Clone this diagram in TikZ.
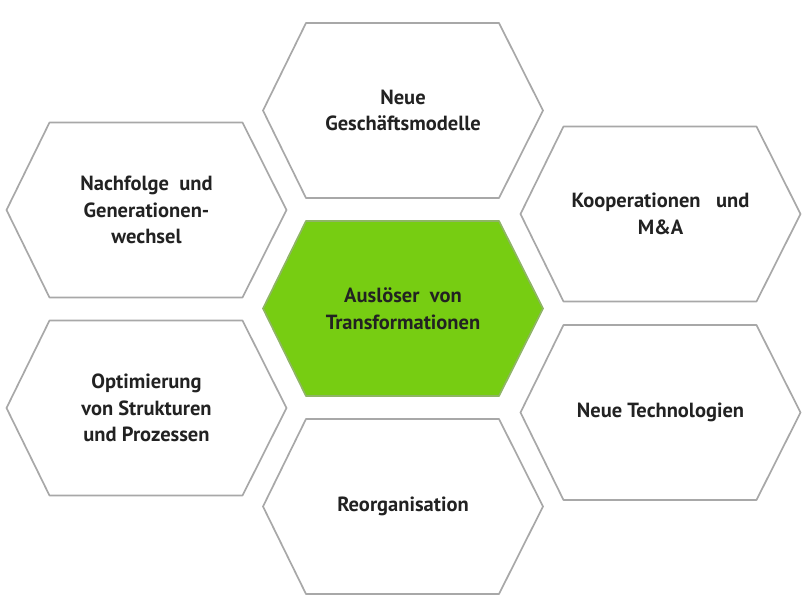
\documentclass[tikz,border=0pt]{standalone}
\usepackage{fontspec}
\setmainfont{PT Sans}
\definecolor{hexgray}{HTML}{A8A8A8}
\definecolor{hexgreen}{HTML}{77CD12}
\definecolor{greenline}{HTML}{8FB565}
\definecolor{txtdark}{HTML}{222222}
\tikzset{
  hexline/.style={draw=hexgray, line width=1.7pt, line join=round, fill=white},
  hexcore/.style={draw=greenline, line width=1.7pt, line join=round, fill=hexgreen},
  hextext/.style={align=center, font=\bfseries\fontsize{20.5}{26.5}\selectfont, text=txtdark, inner sep=0pt},
}
\newcommand{\hexshape}[1]{\path[#1] (-140,0) -- (-97,-87.5) -- (96,-87.5) -- (140,0) -- (96,87.5) -- (-97,87.5) -- cycle;}
\begin{document}
\begin{tikzpicture}[x=1pt, y=-1pt]
\useasboundingbox (0,0) rectangle (812,614);
% top
\begin{scope}[shift={(403,110.5)}]
  \hexshape{hexline}
  \node[hextext] (top) at (0,0) {Neue\\Geschäftsmodelle};
\end{scope}
% center
\begin{scope}[shift={(403,308.5)}]
  \hexshape{hexcore}
  \node[hextext] (core) at (0,0) {Auslöser\ \ von\\Transformationen};
\end{scope}
% bottom
\begin{scope}[shift={(403,506.5)}]
  \hexshape{hexline}
  \node[hextext] (bottom) at (0,0) {Reorganisation};
\end{scope}
% left top
\begin{scope}[shift={(146.5,210)}]
  \hexshape{hexline}
  \node[hextext] (lefttop) at (0,0) {Nachfolge\ \ und\\Generationen-\\wechsel};
\end{scope}
% left bottom
\begin{scope}[shift={(146.5,408)}]
  \hexshape{hexline}
  \node[hextext] (leftbottom) at (0,0) {Optimierung\\von Strukturen\\und Prozessen};
\end{scope}
% right top
\begin{scope}[shift={(660.5,214)}]
  \hexshape{hexline}
  \node[hextext] (righttop) at (0,0) {Kooperationen\ \ \ und\\M\&A};
\end{scope}
% right bottom
\begin{scope}[shift={(660.5,412.5)}]
  \hexshape{hexline}
  \node[hextext] (rightbottom) at (0,0) {Neue Technologien};
\end{scope}
\end{tikzpicture}
\end{document}
